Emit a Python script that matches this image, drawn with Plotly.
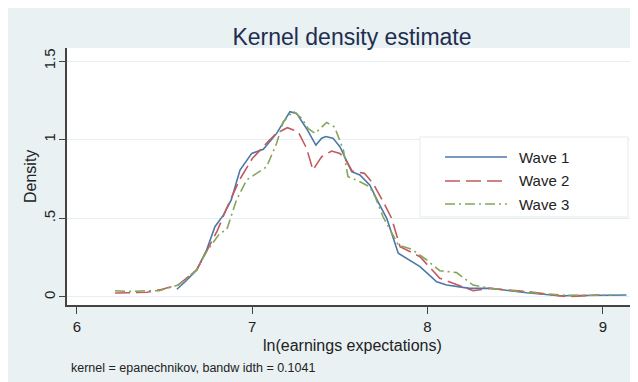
import plotly.graph_objects as go

# ---- data ----
wave1_x = [6.57, 6.62, 6.683, 6.74, 6.787, 6.835, 6.88, 6.93, 6.997, 7.063, 7.139, 7.215, 7.253, 7.31,
           7.363, 7.396, 7.42, 7.46, 7.50, 7.54, 7.567, 7.614, 7.67, 7.72, 7.767, 7.833, 7.957, 8.052,
           8.109, 8.24, 8.356, 8.565, 8.755, 9.135]
wave1_y = [0.049, 0.10, 0.172, 0.30, 0.447, 0.52, 0.617, 0.807, 0.913, 0.939, 1.04, 1.178, 1.167, 1.07,
           0.966, 1.009, 1.02, 1.01, 0.955, 0.86, 0.797, 0.776, 0.712, 0.60, 0.50, 0.278, 0.193, 0.097,
           0.076, 0.055, 0.055, 0.027, 0.008, 0.013]

wave2_x = [6.217, 6.30, 6.40, 6.47, 6.577, 6.683, 6.74, 6.80, 6.86, 6.93, 7.00, 7.053, 7.10, 7.139,
           7.20, 7.262, 7.31, 7.346, 7.396, 7.453, 7.50, 7.54, 7.57, 7.64, 7.69, 7.75, 7.795, 7.843,
           7.957, 8.07, 8.26, 8.356, 8.565, 8.79, 8.98]
wave2_y = [0.025, 0.028, 0.03, 0.045, 0.076, 0.172, 0.29, 0.42, 0.58, 0.75, 0.88, 0.945, 1.00, 1.04,
           1.076, 1.05, 0.945, 0.807, 0.892, 0.928, 0.913, 0.86, 0.80, 0.786, 0.72, 0.60, 0.50, 0.32,
           0.256, 0.119, 0.04, 0.055, 0.035, 0.002, 0.013]

wave3_x = [6.217, 6.30, 6.40, 6.47, 6.577, 6.683, 6.74, 6.816, 6.854, 6.91, 6.968, 7.025, 7.082, 7.139,
           7.177, 7.234, 7.282, 7.32, 7.358, 7.424, 7.47, 7.52, 7.546, 7.614, 7.67, 7.70, 7.746, 7.80,
           7.833, 7.91, 7.99, 8.07, 8.166, 8.26, 8.356, 8.565, 8.79, 9.05]
wave3_y = [0.04, 0.035, 0.04, 0.04, 0.076, 0.172, 0.29, 0.407, 0.426, 0.617, 0.744, 0.786, 0.828, 0.977,
           1.115, 1.18, 1.136, 1.07, 1.04, 1.11, 1.08, 0.934, 0.765, 0.733, 0.70, 0.64, 0.51, 0.40,
           0.33, 0.303, 0.24, 0.167, 0.155, 0.076, 0.055, 0.03, 0.01, 0.012]

series_names = ["Wave 1", "Wave 2", "Wave 3"]
xtick_vals = [6, 7, 8, 9]
ytick_vals = [0, 0.5, 1, 1.5]
ytick_text = ["0", ".5", "1", "1.5"]

title_text = "Kernel density estimate"
xaxis_title = "ln(earnings expectations)"
yaxis_title = "Density"
note_text = "kernel = epanechnikov, bandw idth = 0.1041"

# ---- styling / layout ----
OFF = 8                      # page offset of the figure (browser body margin)
W, H = 638 - OFF, 382 - OFF  # figure size
# plot area in page pixels
L, R, T, B = 67, 637, 48, 305
FONT = "Liberation Sans, Arial, sans-serif"
BG = "#E9F1F3"
colors = ["#4A78A8", "#C25A5E", "#86A55A"]
dashes = ["solid", "15px,6px", "10px,4px,2px,4px"]


def fx(px):
    return (px - L) / (R - L)


def fy(py):
    return (B - py) / (B - T)


fig = go.Figure()
for xs, ys, name, c, d in zip([wave1_x, wave2_x, wave3_x], [wave1_y, wave2_y, wave3_y],
                              series_names, colors, dashes):
    fig.add_trace(go.Scatter(x=xs, y=ys, mode="lines", name=name, showlegend=False,
                             line=dict(color=c, width=1.6, dash=d)))

shapes = [
    dict(type="rect", xref="paper", yref="paper", x0=fx(420), x1=fx(628), y0=fy(217), y1=fy(137),
         fillcolor="white", line=dict(width=1, color="#E2EBEE"), layer="above"),
]
annotations = []
leg_y = [157, 181, 204]
for name, c, d, py in zip(series_names, colors, dashes, leg_y):
    shapes.append(dict(type="line", xref="paper", yref="paper", x0=fx(445), x1=fx(507),
                       y0=fy(py), y1=fy(py), line=dict(color=c, width=1.6, dash=d), layer="above"))
    annotations.append(dict(text=name, xref="paper", yref="paper", x=fx(517), y=fy(py),
                            xanchor="left", yanchor="middle", showarrow=False,
                            font=dict(family=FONT, size=15, color="#222222")))

annotations += [
    dict(text=yaxis_title, xref="paper", yref="paper", x=fx(30), y=fy(177), textangle=-90,
         xanchor="center", yanchor="middle", showarrow=False,
         font=dict(family=FONT, size=16, color="#222222")),
    dict(text=xaxis_title, xref="paper", yref="paper", x=fx(352), y=fy(345),
         xanchor="center", yanchor="middle", showarrow=False,
         font=dict(family=FONT, size=16, color="#222222")),
    dict(text=note_text, xref="paper", yref="paper", x=fx(69), y=fy(368),
         xanchor="left", yanchor="middle", showarrow=False,
         font=dict(family=FONT, size=12.5, color="#222222")),
]

fig.update_layout(
    width=W, height=H,
    margin=dict(l=L - OFF, r=W - (R - OFF), t=T - OFF, b=H - (B - OFF), pad=0),
    paper_bgcolor=BG, plot_bgcolor="white",
    title=dict(text=title_text, x=(352 - OFF) / W, xanchor="center", y=1 - (37 - OFF) / H,
               yanchor="middle", font=dict(family=FONT, size=23, color="#1F2D50")),
    showlegend=False,
    shapes=shapes, annotations=annotations,
    xaxis=dict(range=[5.943, 9.195], tickvals=xtick_vals, showgrid=False, zeroline=False,
               showline=True, linecolor="#444444", linewidth=1.5, ticks="outside", ticklen=7,
               tickcolor="#444444", tickwidth=1.2,
               tickfont=dict(family=FONT, size=15, color="#222222")),
    yaxis=dict(range=[-0.051, 1.583], tickvals=ytick_vals, ticktext=ytick_text, tickangle=-90,
               showgrid=True, gridcolor="#E6EEF1", gridwidth=1, zeroline=False,
               showline=True, linecolor="#444444", linewidth=1.5, ticks="outside", ticklen=6,
               tickcolor="#444444", tickwidth=1.2, ticklabelstandoff=-2,
               tickfont=dict(family=FONT, size=15, color="#222222")),
)

fig.write_html("out.html")
